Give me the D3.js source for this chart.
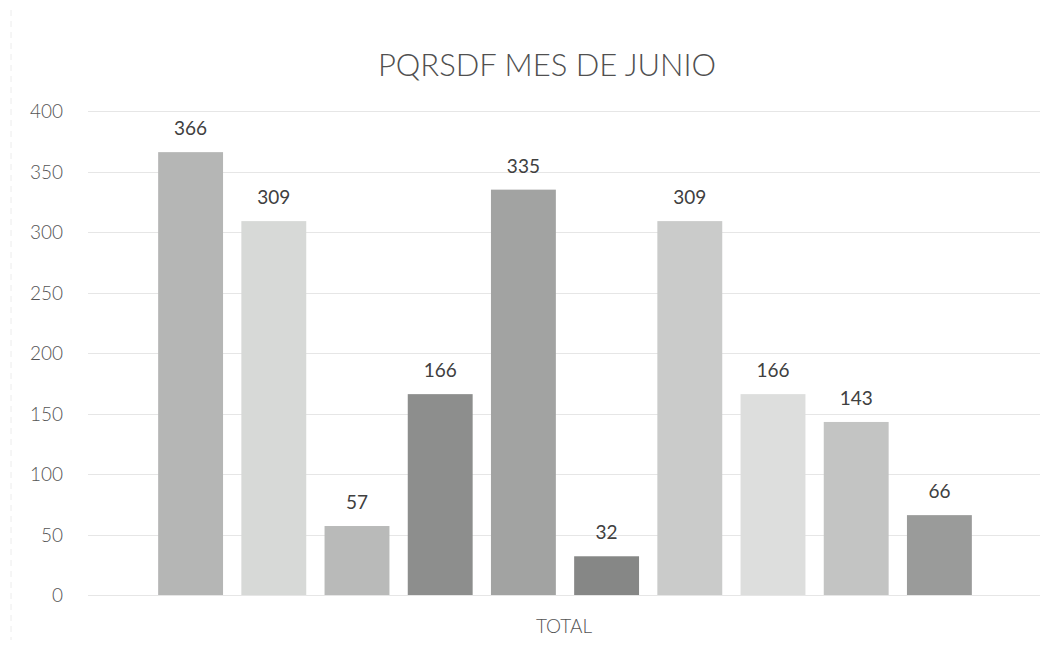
<!DOCTYPE html>
<html>
<head>
<meta charset="utf-8">
<script src="https://cdn.jsdelivr.net/npm/d3@7"></script>
<style>
  html, body { margin: 0; padding: 0; background: #fff; }
  svg { display: block; }
  text { font-family: Lato, "Open Sans", sans-serif; fill: #404040; }
</style>
</head>
<body>
<svg id="chart" width="1062" height="653"></svg>
<script>
// ---- data ----
const title = "PQRSDF MES DE JUNIO";
const category = "TOTAL";
const series = ["S1", "S2", "S3", "S4", "S5", "S6", "S7", "S8", "S9", "S10"];
const values = [366, 309, 57, 166, 335, 32, 309, 166, 143, 66];
const colors = ["#b5b6b5", "#d7d9d7", "#b9bab9", "#8d8e8d", "#a2a3a2", "#868786", "#cacbca", "#dddedd", "#c3c4c3", "#9a9b9a"];
const yTicks = [0, 50, 100, 150, 200, 250, 300, 350, 400];

// ---- layout ----
const svg = d3.select("#chart");
const plot = { left: 88, right: 1040, top: 111, bottom: 595 };

const y = d3.scaleLinear().domain([0, 400]).range([plot.bottom, plot.top]);
const x = d3.scaleBand().domain(series).range([149, 981]).paddingInner(0.22).paddingOuter(0.11);

// faint scanned border at left
svg.append("line")
  .attr("x1", 11).attr("x2", 11).attr("y1", 10).attr("y2", 640)
  .attr("stroke", "#ececec").attr("stroke-width", 1).attr("stroke-dasharray", "6,5");

// gridlines
svg.append("g").selectAll("line").data(yTicks).join("line")
  .attr("x1", plot.left).attr("x2", plot.right)
  .attr("y1", d => Math.round(y(d)) + 0.5).attr("y2", d => Math.round(y(d)) + 0.5)
  .attr("stroke", "#e6e6e6").attr("stroke-width", 1);

// y axis labels
const yAxis = d3.axisLeft(y).tickValues(yTicks).tickSize(0).tickPadding(0);
const gy = svg.append("g").attr("transform", "translate(63,0)").call(yAxis);
gy.select(".domain").remove();
gy.selectAll("text").style("font-size", "19px").style("font-family", "Lato, sans-serif")
  .style("font-weight", "300").style("fill", "#555").attr("dy", "0.35em");

// bars
svg.append("g").selectAll("rect").data(values).join("rect")
  .attr("x", (d, i) => x(series[i]))
  .attr("width", x.bandwidth())
  .attr("y", d => y(d))
  .attr("height", d => y(0) - y(d))
  .attr("fill", (d, i) => colors[i]);

// data labels
svg.append("g").selectAll("text").data(values).join("text")
  .attr("x", (d, i) => x(series[i]) + x.bandwidth() / 2)
  .attr("y", d => y(d) - 17)
  .attr("text-anchor", "middle")
  .style("font-size", "19px")
  .style("fill", "#404040")
  .text(d => d);

// category label
svg.append("text")
  .attr("x", (plot.left + plot.right) / 2)
  .attr("y", 633)
  .attr("text-anchor", "middle")
  .style("font-size", "19px")
  .style("font-weight", "300")
  .style("fill", "#555")
  .text(category);

// title
svg.append("text")
  .attr("x", 547)
  .attr("y", 76)
  .attr("text-anchor", "middle")
  .style("font-size", "31px")
  .style("font-weight", "300")
  .style("fill", "#505050")
  .text(title);
</script>
</body>
</html>
